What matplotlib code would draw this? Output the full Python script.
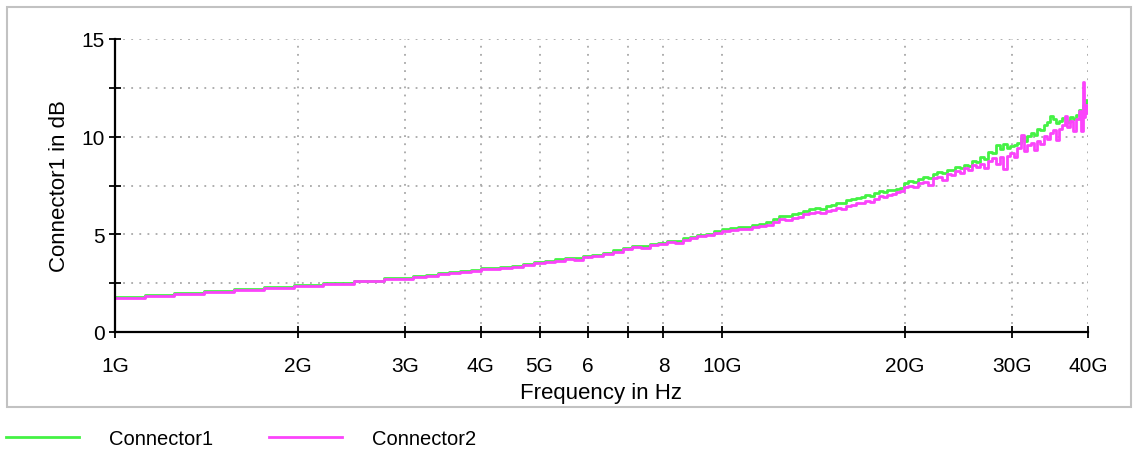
import matplotlib
matplotlib.use('Agg')
import matplotlib.pyplot as plt
from matplotlib.patches import Rectangle

plt.rcParams['font.family'] = ['Liberation Sans', 'DejaVu Sans']
plt.rcParams['font.size'] = 14

# frequency points in GHz
freq_ghz = [1.0, 1.12, 1.25, 1.4, 1.57, 1.76, 1.97, 2.2, 2.47, 2.77,
            3.1, 3.25, 3.4, 3.55, 3.7, 3.85, 4.0, 4.15, 4.3, 4.5,
            4.7, 4.9, 5.1, 5.3, 5.5, 5.7, 5.9, 6.1, 6.35, 6.6,
            6.85, 7.1, 7.35, 7.6, 7.85, 8.1, 8.35, 8.6, 8.85, 9.1,
            9.4, 9.7,
            10.0, 10.3, 10.6, 10.9, 11.2, 11.5, 11.8, 12.1, 12.4, 12.7,
            13.0, 13.3, 13.6, 13.9, 14.2, 14.5, 14.8, 15.1, 15.4, 15.7,
            16.0, 16.3, 16.6, 16.9, 17.2, 17.5, 17.8, 18.1, 18.4, 18.7,
            19.0, 19.3, 19.6, 19.9,
            20.2, 20.6, 21.0, 21.4, 21.8, 22.2, 22.6, 23.0, 23.4, 23.8,
            24.2, 24.6, 25.0, 25.4, 25.8, 26.2, 26.6, 27.0, 27.4, 27.8,
            28.2, 28.6, 29.0, 29.4, 29.8, 30.2, 30.6, 31.0, 31.4, 31.8,
            32.2, 32.6, 33.0, 33.4, 33.8, 34.2, 34.6, 35.0, 35.4, 35.8,
            36.2, 36.6, 37.0, 37.4, 37.8, 38.2, 38.6, 39.0, 39.2, 39.4,
            39.6, 39.8, 40.0]

conn1_db = [1.77, 1.87, 1.98, 2.08, 2.18, 2.28, 2.39, 2.50, 2.63, 2.75,
            2.86, 2.93, 3.00, 3.07, 3.12, 3.18, 3.27, 3.28, 3.34, 3.40,
            3.48, 3.58, 3.64, 3.72, 3.78, 3.80, 3.90, 3.96, 4.04, 4.18,
            4.30, 4.42, 4.40, 4.50, 4.58, 4.68, 4.66, 4.80, 4.88, 4.98,
            5.04, 5.16,
            5.26, 5.30, 5.36, 5.38, 5.46, 5.55, 5.62, 5.76, 5.95, 5.92,
            6.02, 6.08, 6.20, 6.30, 6.35, 6.30, 6.46, 6.50, 6.62, 6.58,
            6.74, 6.80, 6.86, 6.92, 7.00, 6.98, 7.12, 7.22, 7.18, 7.26,
            7.28, 7.34, 7.36, 7.62,
            7.72, 7.68, 7.85, 7.95, 7.90, 8.10, 8.18, 8.12, 8.30, 8.28,
            8.45, 8.40, 8.55, 8.52, 8.75, 8.70, 8.95, 8.85, 9.20, 9.15,
            9.55, 9.35, 9.60, 9.40, 9.50, 9.55, 9.70, 9.95, 9.80, 10.05,
            10.20, 10.10, 10.40, 10.35, 10.60, 10.75, 11.05, 10.90, 10.70, 10.80,
            10.95, 10.85, 10.75, 11.00, 10.90, 11.10, 11.35, 11.30, 11.60, 11.50,
            11.90, 11.70, 11.85]

conn2_db = [1.75, 1.85, 1.95, 2.05, 2.15, 2.25, 2.35, 2.46, 2.59, 2.71,
            2.82, 2.88, 2.95, 3.02, 3.05, 3.12, 3.22, 3.20, 3.28, 3.33,
            3.42, 3.52, 3.58, 3.65, 3.72, 3.70, 3.83, 3.90, 3.97, 4.12,
            4.25, 4.35, 4.30, 4.43, 4.50, 4.60, 4.55, 4.72, 4.80, 4.90,
            4.95, 5.08,
            5.18, 5.22, 5.28, 5.26, 5.38, 5.45, 5.50, 5.62, 5.78, 5.74,
            5.86, 5.90, 6.02, 6.10, 6.14, 6.08, 6.22, 6.26, 6.35, 6.30,
            6.45, 6.48, 6.58, 6.62, 6.70, 6.66, 6.80, 6.95, 6.90, 7.02,
            7.08, 7.15, 7.20, 7.42,
            7.50, 7.40, 7.62, 7.70, 7.55, 7.86, 7.95, 7.80, 8.10, 8.02,
            8.25, 8.15, 8.38, 8.30, 8.55, 8.45, 8.62, 8.40, 8.75, 8.90,
            8.60, 8.95, 8.35, 9.00, 9.15, 8.95, 9.40, 10.10, 9.25, 9.55,
            9.70, 9.30, 9.80, 9.65, 10.05, 9.90, 10.20, 10.35, 9.85, 10.40,
            10.60, 11.05, 10.50, 10.80, 10.30, 10.90, 11.30, 10.30, 12.80, 11.00,
            11.60, 11.20, 11.45]

xtick_ghz = [1, 2, 3, 4, 5, 6, 7, 8, 10, 20, 30, 40]
xtick_labels = ['1G', '2G', '3G', '4G', '5G', '6', '', '8', '10G', '20G', '30G', '40G']
ytick_vals = [0, 2.5, 5, 7.5, 10, 12.5, 15]
ytick_labels = ['0', '', '5', '', '10', '', '15']

freq_hz = [f * 1e9 for f in freq_ghz]

fig = plt.figure(figsize=(11.37, 4.56), dpi=100)
ax = fig.add_axes([115 / 1137, 1 - 333 / 456, 973 / 1137, 293 / 456])

l1, = ax.step(freq_hz, conn1_db, where='post', color='#44f244', lw=2, label='Connector1')
l2, = ax.step(freq_hz, conn2_db, where='post', color='#fb44fb', lw=2, label='Connector2')

ax.set_xscale('log')
ax.set_xlim(1e9, 4e10)
ax.set_ylim(0, 15)
ax.set_xticks([t * 1e9 for t in xtick_ghz])
ax.set_xticklabels(xtick_labels)
ax.minorticks_off()
ax.set_yticks(ytick_vals)
ax.set_yticklabels(ytick_labels)

ax.grid(True, color='#a8a8a8', linestyle=(0, (1, 3.5)), lw=1.3)
for s in ['top', 'right']:
    ax.spines[s].set_visible(False)
for s in ['left', 'bottom']:
    ax.spines[s].set_linewidth(1.6)
ax.tick_params(axis='both', direction='inout', length=9, width=1.3, labelsize=15)
ax.tick_params(axis='x', pad=13)
ax.tick_params(axis='y', pad=3)

ax.set_xlabel('Frequency in Hz', fontsize=16, labelpad=5)
ax.set_ylabel('Connector1 in dB', fontsize=16, labelpad=8)

# grey frame around the plot area
fig.patches.append(Rectangle((7 / 1137, 1 - 408 / 456), 1124 / 1137, 400 / 456,
                             transform=fig.transFigure, fill=False,
                             edgecolor='#c2c2c2', lw=1.5))

fig.legend(handles=[l1, l2], loc='center left', bbox_to_anchor=(6 / 1137, 1 - 440 / 456),
           ncol=2, frameon=False, fontsize=14.5, handlelength=3.6, handletextpad=1.5,
           columnspacing=2.8, borderpad=0, borderaxespad=0)

fig.savefig('out.png', dpi=100)
